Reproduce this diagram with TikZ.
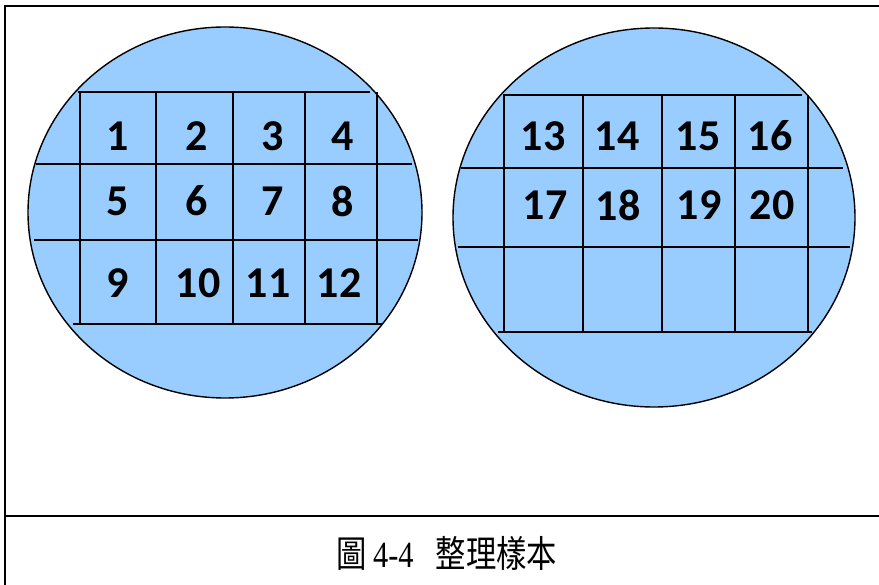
\documentclass[tikz,border=0pt]{standalone}
\usepackage{fontspec}
\setsansfont{Carlito}
\newfontfamily\cjk{Noto Sans CJK TC}[FakeStretch=0.82]
\newfontfamily\capnum{Liberation Serif}[FakeStretch=0.82]
\definecolor{wafer}{HTML}{99CCFF}
\begin{document}
\begin{tikzpicture}[x=1pt,y=-1pt,
  frameline/.style={line width=2.6pt,black},
  gridline/.style={line width=2.4pt,black},
  waferdisk/.style={fill=wafer,draw=black,line width=1.4pt},
  numlabel/.style={font=\sffamily\bfseries\fontsize{44}{46}\selectfont,inner sep=0pt}]
\useasboundingbox (0,0) rectangle (879,585);
% frame
\draw[frameline] (5,585) -- (5,6) -- (879,6);
\draw[frameline] (5,516) -- (879,516);
% left wafer
\draw[waferdisk] (225,212.5) ellipse [x radius=197, y radius=185.5];
\draw[gridline] (78,92) -- (370,92);
\draw[gridline] (36,164) -- (412,164);
\draw[gridline] (34,240) -- (418,240);
\draw[gridline] (73,324) -- (382,324);
\foreach \x in {80,156,233,305,377} \draw[gridline] (\x,92) -- (\x,324);
\node[numlabel] (n1) at (118,136) {1};
\node[numlabel] (n2) at (197,136) {2};
\node[numlabel] (n3) at (273,136) {3};
\node[numlabel] (n4) at (343,136) {4};
\node[numlabel] (n5) at (118,201) {5};
\node[numlabel] (n6) at (197,201) {6};
\node[numlabel] (n7) at (273,201) {7};
\node[numlabel] (n8) at (343,201) {8};
\node[numlabel] (n9) at (118,283) {9};
\node[numlabel] (n10) at (198,283) {10};
\node[numlabel] (n11) at (268,283) {11};
\node[numlabel] (n12) at (339,283) {12};
% right wafer
\draw[waferdisk] (654,217.5) ellipse [x radius=201, y radius=189.5];
\draw[gridline] (503,95) -- (802,95);
\draw[gridline] (461,168) -- (843,168);
\draw[gridline] (458,247) -- (850,247);
\draw[gridline] (498,332) -- (812,332);
\foreach \x in {504,583,662,735,808} \draw[gridline] (\x,95) -- (\x,332);
\node[numlabel] (n13) at (543,136) {13};
\node[numlabel] (n14) at (617,136) {14};
\node[numlabel] (n15) at (698,136) {15};
\node[numlabel] (n16) at (770,136) {16};
\node[numlabel] (n17) at (545,205) {17};
\node[numlabel] (n18) at (618,205) {18};
\node[numlabel] (n19) at (699,205) {19};
\node[numlabel] (n20) at (772,205) {20};
% caption
\node[inner sep=0pt,font=\fontsize{37}{39}\selectfont] (cap) at (447,553)
  {{\cjk 圖}\,{\capnum 4-4}\ \ {\cjk 整理樣本}};
\end{tikzpicture}
\end{document}
